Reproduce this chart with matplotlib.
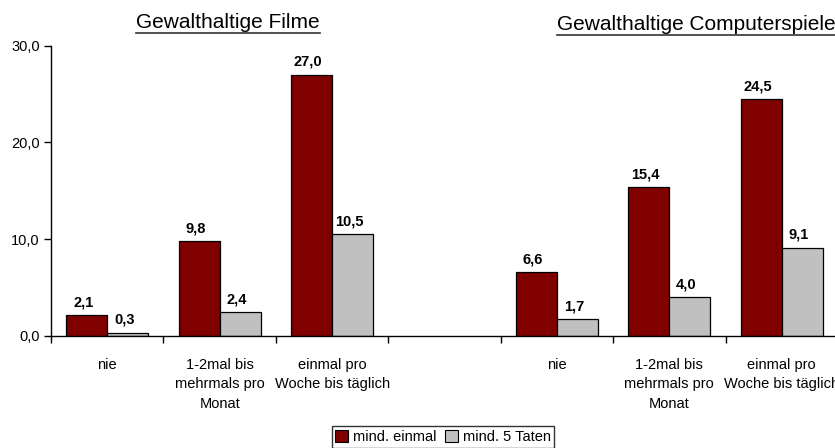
import matplotlib
matplotlib.use("Agg")
import matplotlib.pyplot as plt
from matplotlib.lines import Line2D
from matplotlib.patches import Patch
import numpy as np

# Daten
kategorien = ["nie", "1-2mal bis\nmehrmals pro\nMonat", "einmal pro\nWoche bis täglich"]
filme_einmal = [2.1, 9.8, 27.0]
filme_5taten = [0.3, 2.4, 10.5]
spiele_einmal = [6.6, 15.4, 24.5]
spiele_5taten = [1.7, 4.0, 9.1]
titel = ["Gewalthaltige Filme", "Gewalthaltige Computerspiele"]
legende = ["mind. einmal", "mind. 5 Taten"]
y_ticks = [0, 10, 20, 30]

rot = "#800000"
grau = "#c0c0c0"
schrift = ["Liberation Sans", "DejaVu Sans"]
plt.rcParams["font.family"] = schrift

fig = plt.figure(figsize=(8.35, 4.48), dpi=100)
ax = fig.add_axes([0.0611, 0.2507, 0.9425, 0.6474])

# Positionen: 3 Kategorien links, eine Leerstelle, 3 Kategorien rechts
pos = np.array([0, 1, 2, 4, 5, 6])
werte_einmal = filme_einmal + spiele_einmal
werte_5 = filme_5taten + spiele_5taten
breite = 0.365

b1 = ax.bar(pos - breite / 2, werte_einmal, breite, color=rot, edgecolor="black", linewidth=0.9)
b2 = ax.bar(pos + breite / 2, werte_5, breite, color=grau, edgecolor="black", linewidth=0.9)

for balken, werte in ((b1, werte_einmal), (b2, werte_5)):
    for r, w in zip(balken, werte):
        ax.text(r.get_x() + r.get_width() / 2 - 0.03, w + 0.6, f"{w:.1f}".replace(".", ","),
                ha="center", va="bottom", fontsize=10.5, fontweight="bold")

ax.set_xlim(-0.5, 6.5)
ax.set_ylim(0, 30)
ax.set_yticks(y_ticks)
ax.set_yticklabels([f"{v:.1f}".replace(".", ",") for v in y_ticks], fontsize=10.5)
ax.set_xticks(np.arange(-0.5, 7, 1))
ax.set_xticklabels([])
ax.set_xticks(pos, minor=True)
ax.set_xticklabels(kategorien * 2, minor=True, fontsize=10.5, linespacing=1.5, va="top")
ax.tick_params(axis="x", which="minor", length=0, pad=16)
ax.tick_params(axis="x", which="major", length=5, width=1)
ax.tick_params(axis="y", length=5, width=1, pad=3)

for s in ("top", "right"):
    ax.spines[s].set_visible(False)
for s in ("left", "bottom"):
    ax.spines[s].set_linewidth(1)

# Titel mit Unterstreichung
t1 = fig.text(228 / 835, 1 - 22 / 448, titel[0], ha="center", va="center", fontsize=15)
t2 = fig.text(557 / 835, 1 - 24 / 448, titel[1], ha="left", va="center", fontsize=15)
fig.canvas.draw()
r = fig.canvas.get_renderer()
for t in (t1, t2):
    bb = t.get_window_extent(r).transformed(fig.transFigure.inverted())
    y = bb.y0 - 2 / 448
    fig.add_artist(Line2D([bb.x0, bb.x1], [y, y], transform=fig.transFigure, color="#333333", linewidth=1.2))

handles = [Patch(facecolor=rot, edgecolor="black", linewidth=0.8),
           Patch(facecolor=grau, edgecolor="black", linewidth=0.8)]
fig.legend(handles, legende, loc="center", bbox_to_anchor=(443 / 835, 1 - 437 / 448), ncol=2,
           frameon=True, fancybox=False, edgecolor="black", handlelength=0.9, handleheight=0.9,
           handletextpad=0.3, columnspacing=0.6, borderpad=0.25, prop={"size": 10.5})

fig.savefig("out.png", dpi=100)
